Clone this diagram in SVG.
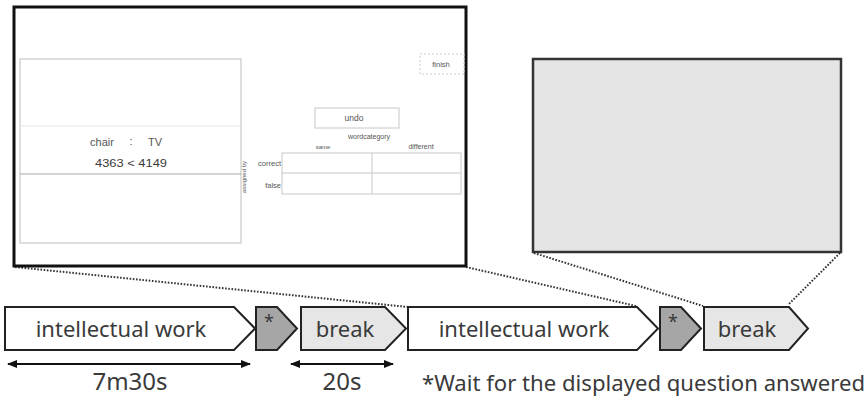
<svg xmlns="http://www.w3.org/2000/svg" width="867" height="406" viewBox="0 0 867 406">
<style>
.ui{font-family:"Liberation Sans","DejaVu Sans",sans-serif;fill:#555}
.lbl{font-family:"Noto Sans","Liberation Sans",sans-serif;fill:#3a3a3a}
.step{stroke:#222;stroke-width:2;stroke-linejoin:miter}
.dot{stroke:#333;stroke-width:2;stroke-dasharray:1.6 1.6;fill:none}
.dim{stroke:#111;stroke-width:2.2;fill:none;marker-start:url(#ah);marker-end:url(#ah)}
.thin{stroke:#c8c8c8;stroke-width:1;fill:none}
</style>
<defs>
<marker id="ah" viewBox="0 0 10 8" refX="9" refY="4" markerWidth="10" markerHeight="8" markerUnits="userSpaceOnUse" orient="auto-start-reverse">
<path d="M0,0 L10,4 L0,8 Z" fill="#111"/>
</marker>
</defs>
<rect width="867" height="406" fill="#fff"/>

<g id="connectors">
<line class="dot" x1="15" y1="267" x2="408" y2="307"/>
<line class="dot" x1="466" y1="267" x2="636" y2="306"/>
<line class="dot" x1="534" y1="253" x2="703" y2="306"/>
<line class="dot" x1="840" y1="253" x2="788" y2="305"/>
<line class="dim" x1="8" y1="364" x2="250" y2="364"/>
<line class="dim" x1="291" y1="364" x2="393" y2="364"/>
</g>

<g id="screenshot">
<rect x="14" y="7" width="452" height="259" fill="#fff" stroke="#111" stroke-width="3"/>
<rect x="20" y="59" width="221" height="184" fill="#fff" stroke="#bdbdbd" stroke-width="1"/>
<line x1="20" y1="126" x2="241" y2="126" stroke="#e4e4e4" stroke-width="1"/>
<line x1="20" y1="174" x2="241" y2="174" stroke="#a8a8a8" stroke-width="1"/>
<text class="ui" x="102" y="146" font-size="11" text-anchor="middle">chair</text>
<text class="ui" x="131" y="145" font-size="11" text-anchor="middle">:</text>
<text class="ui" x="155" y="146" font-size="11" text-anchor="middle">TV</text>
<text class="ui" x="95" y="167" font-size="11.5" textLength="72" lengthAdjust="spacingAndGlyphs" style="fill:#3a3a3a">4363 &lt; 4149</text>
<text class="ui" x="0" y="0" font-size="6" text-anchor="middle" transform="translate(246,177) rotate(-90)">assigned by</text>
<text class="ui" x="281" y="166" font-size="7.5" text-anchor="end">correct</text>
<text class="ui" x="281" y="188" font-size="7.5" text-anchor="end">false</text>
<rect x="282" y="153" width="179" height="41" class="thin"/>
<line x1="372" y1="153" x2="372" y2="194" stroke="#c8c8c8"/>
<line x1="282" y1="173" x2="461" y2="173" stroke="#c8c8c8"/>
<text class="ui" x="323" y="149" font-size="6" text-anchor="middle">same</text>
<text class="ui" x="421" y="149" font-size="7" text-anchor="middle">different</text>
<text class="ui" x="369" y="139" font-size="7" text-anchor="middle">wordcategory</text>
<rect x="315" y="108" width="84" height="20" class="thin"/>
<text class="ui" x="354" y="121" font-size="8.5" text-anchor="middle">undo</text>
<rect x="420" y="54" width="44" height="20" fill="none" stroke="#ccc" stroke-width="1" stroke-dasharray="2 2"/>
<text class="ui" x="441" y="67" font-size="7.5" text-anchor="middle">finish</text>
</g>

<g id="break-screen">
<rect x="533" y="59" width="308" height="193" fill="#e5e5e5" stroke="#333" stroke-width="2.5"/>
</g>

<g id="work1">
<polygon class="step" points="5,307 234,307 255,328.5 234,350 5,350" fill="#fff"/>
<text class="lbl" x="121" y="337" font-size="22" text-anchor="middle">intellectual work</text>
</g>
<g id="wait1">
<polygon class="step" points="256,307 277,307 297,328.5 277,350 256,350" fill="#a6a6a6"/>
<text class="lbl" x="269" y="328" font-size="18" text-anchor="middle">*</text>
</g>
<g id="break1">
<polygon class="step" points="301,307 385,307 406,328.5 385,350 301,350" fill="#e6e6e6"/>
<text class="lbl" x="345" y="337" font-size="22" text-anchor="middle">break</text>
</g>
<g id="work2">
<polygon class="step" points="408,307 637,307 658,328.5 637,350 408,350" fill="#fff"/>
<text class="lbl" x="524" y="337" font-size="22" text-anchor="middle">intellectual work</text>
</g>
<g id="wait2">
<polygon class="step" points="660,307 681,307 701,328.5 681,350 660,350" fill="#a6a6a6"/>
<text class="lbl" x="673" y="328" font-size="18" text-anchor="middle">*</text>
</g>
<g id="break2">
<polygon class="step" points="704,307 789,307 808,328.5 789,350 704,350" fill="#e6e6e6"/>
<text class="lbl" x="747" y="337" font-size="22" text-anchor="middle">break</text>
</g>

<g id="labels">
<text class="lbl" x="130" y="390" font-size="24" text-anchor="middle">7m30s</text>
<text class="lbl" x="342" y="390" font-size="24" text-anchor="middle">20s</text>
<text class="lbl" x="422" y="391" font-size="21" textLength="443" lengthAdjust="spacingAndGlyphs">*Wait for the displayed question answered</text>
</g>
</svg>
